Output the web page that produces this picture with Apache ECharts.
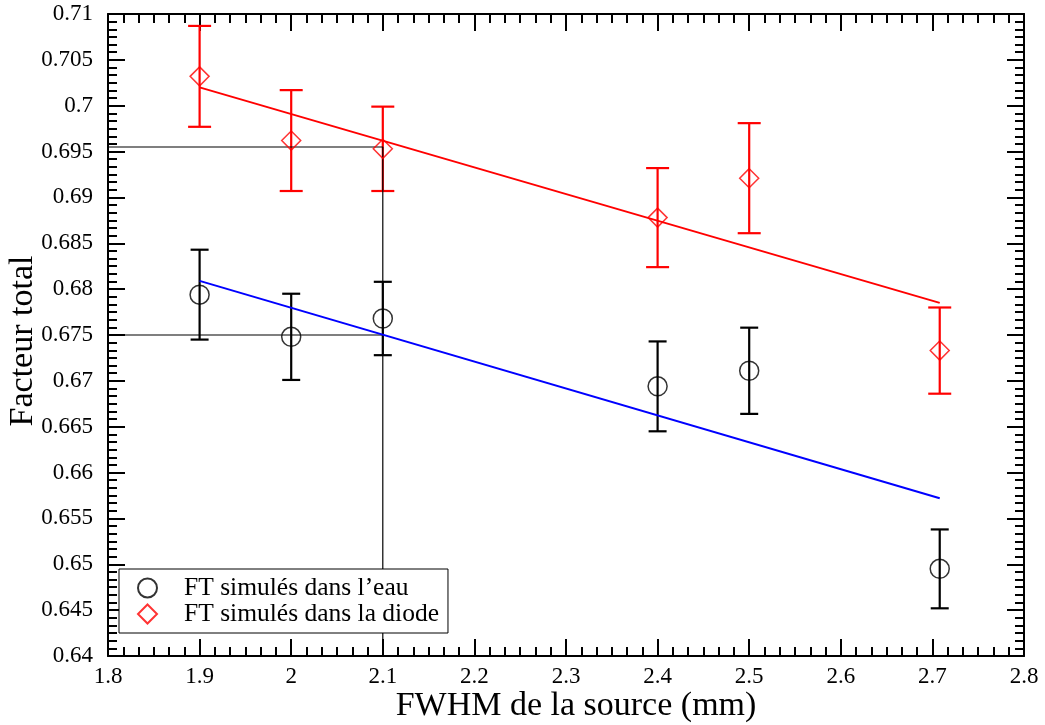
<!DOCTYPE html>
<html>
<head>
<meta charset="utf-8">
<script src="https://cdn.jsdelivr.net/npm/echarts@6/dist/echarts.min.js"></script>
<style>
  html, body { margin: 0; padding: 0; background: #fff; }
  #chart { width: 1045px; height: 725px; }
</style>
</head>
<body>
<div id="chart"></div>
<script>
// Source widths (FWHM, mm)
const fwhm = [1.9, 2.0, 2.1, 2.4, 2.5, 2.708];

// Total factor simulated in water, with its uncertainty
const ftEau = [0.6794, 0.6748, 0.6768, 0.6694, 0.6711, 0.6495];
const errEau = [0.0049, 0.0047, 0.0040, 0.0049, 0.0047, 0.0043];

// Total factor simulated in the diode, with its uncertainty
const ftDiode = [0.7032, 0.6962, 0.6953, 0.6878, 0.6921, 0.6733];
const errDiode = [0.0055, 0.0055, 0.0046, 0.0054, 0.0060, 0.0047];

// Linear fits (end points)
const fitX = [1.9, 2.708];
const fitEau = [0.6809, 0.6572];
const fitDiode = [0.7020, 0.6785];

// Read-off guides at FWHM = 2.1 mm
const guideX = 2.1;
const guideYDiode = 0.6955;
const guideYEau = 0.675;

const serif = '"Liberation Serif", "Times New Roman", serif';
const fmt = v => String(+(+v).toFixed(4));

function pairs(xs, ys) { return xs.map((x, i) => [x, ys[i]]); }
function errData(xs, ys, es) { return xs.map((x, i) => [x, ys[i], es[i]]); }

function errorBars(color, halfCap) {
  return function (params, api) {
    const x = api.value(0), y = api.value(1), e = api.value(2);
    const hi = api.coord([x, y + e]);
    const lo = api.coord([x, y - e]);
    const st = { stroke: color, lineWidth: 2.2 };
    return {
      type: 'group',
      children: [
        { type: 'line', shape: { x1: hi[0], y1: hi[1], x2: lo[0], y2: lo[1] }, style: st },
        { type: 'line', shape: { x1: hi[0] - halfCap, y1: hi[1], x2: hi[0] + halfCap, y2: hi[1] }, style: st },
        { type: 'line', shape: { x1: lo[0] - halfCap, y1: lo[1], x2: lo[0] + halfCap, y2: lo[1] }, style: st }
      ]
    };
  };
}

function xAxisDef(pos, showLabels) {
  return {
    type: 'value', position: pos, min: 1.8, max: 2.8, interval: 0.1,
    name: showLabels ? 'FWHM de la source (mm)' : '',
    nameLocation: 'middle', nameGap: 33, nameMoveOverlap: false,
    nameTextStyle: { fontFamily: serif, fontSize: 34, color: '#000', padding: [0, 0, 0, 20] },
    axisLine: { show: true, onZero: false, lineStyle: { color: '#000', width: 2 } },
    axisTick: { show: true, inside: true, length: 17, lineStyle: { color: '#000', width: 2 } },
    minorTick: { show: true, splitNumber: 6, length: 9, lineStyle: { color: '#000', width: 2 } },
    splitLine: { show: false },
    axisLabel: { show: showLabels, margin: 9, fontFamily: serif, fontSize: 23, color: '#000', formatter: fmt }
  };
}

function yAxisDef(pos, showLabels) {
  return {
    type: 'value', position: pos, min: 0.64, max: 0.71, interval: 0.005,
    name: showLabels ? 'Facteur total' : '',
    nameLocation: 'middle', nameGap: 68, nameMoveOverlap: false,
    nameTextStyle: { fontFamily: serif, fontSize: 34, color: '#000', padding: [0, 12, 0, 0] },
    axisLine: { show: true, onZero: false, lineStyle: { color: '#000', width: 2 } },
    axisTick: { show: true, inside: true, length: 17, lineStyle: { color: '#000', width: 2 } },
    minorTick: { show: true, splitNumber: 6, length: 9, lineStyle: { color: '#000', width: 2 } },
    splitLine: { show: false },
    axisLabel: { show: showLabels, margin: 15, fontFamily: serif, fontSize: 23, color: '#000', formatter: fmt }
  };
}

const chart = echarts.init(document.getElementById('chart'), null, { renderer: 'canvas' });

chart.setOption({
  backgroundColor: '#fff',
  animation: false,
  grid: { left: 108, right: 21, top: 14, bottom: 69, containLabel: false, outerBoundsMode: 'none' },
  xAxis: [xAxisDef('bottom', true), xAxisDef('top', false)],
  yAxis: [yAxisDef('left', true), yAxisDef('right', false)],
  legend: {
    orient: 'vertical', left: 119, top: 569,
    backgroundColor: '#fff', borderColor: '#000', borderWidth: 1, borderRadius: 0,
    padding: [6, 9, 6, 18], itemGap: 0, itemWidth: 19, itemHeight: 19,
    textStyle: { fontFamily: serif, fontSize: 25.5, lineHeight: 26, color: '#000', padding: [0, 0, 0, 22] },
    data: ['FT simulés dans l’eau', 'FT simulés dans la diode'],
    selectedMode: false
  },
  series: [
    {
      name: 'guides-diode', type: 'line', silent: true, symbol: 'none',
      lineStyle: { color: '#000', width: 1.2 },
      data: [[1.8, guideYDiode], [guideX, guideYDiode], [guideX, 0.64]]
    },
    {
      name: 'guides-eau', type: 'line', silent: true, symbol: 'none',
      lineStyle: { color: '#000', width: 1.2 },
      data: [[1.8, guideYEau], [guideX, guideYEau]]
    },
    {
      name: 'fit-eau', type: 'line', symbol: 'none',
      lineStyle: { color: '#0000ff', width: 2 },
      data: pairs(fitX, fitEau)
    },
    {
      name: 'fit-diode', type: 'line', symbol: 'none',
      lineStyle: { color: '#ff0000', width: 2 },
      data: pairs(fitX, fitDiode)
    },
    {
      name: 'err-eau', type: 'custom',
      renderItem: errorBars('#000', 9),
      encode: { x: 0, y: [1, 2] },
      data: errData(fwhm, ftEau, errEau)
    },
    {
      name: 'err-diode', type: 'custom',
      renderItem: errorBars('#ff0000', 11.5),
      encode: { x: 0, y: [1, 2] },
      data: errData(fwhm, ftDiode, errDiode)
    },
    {
      name: 'FT simulés dans l’eau', type: 'scatter', symbol: 'circle', symbolSize: 19,
      itemStyle: { color: 'rgba(0,0,0,0)', borderColor: '#000', borderWidth: 1.5 },
      data: pairs(fwhm, ftEau), z: 5
    },
    {
      name: 'FT simulés dans la diode', type: 'scatter', symbol: 'diamond', symbolSize: 19,
      itemStyle: { color: 'rgba(0,0,0,0)', borderColor: '#ff0000', borderWidth: 1.5 },
      data: pairs(fwhm, ftDiode), z: 5
    }
  ]
});
</script>
</body>
</html>
